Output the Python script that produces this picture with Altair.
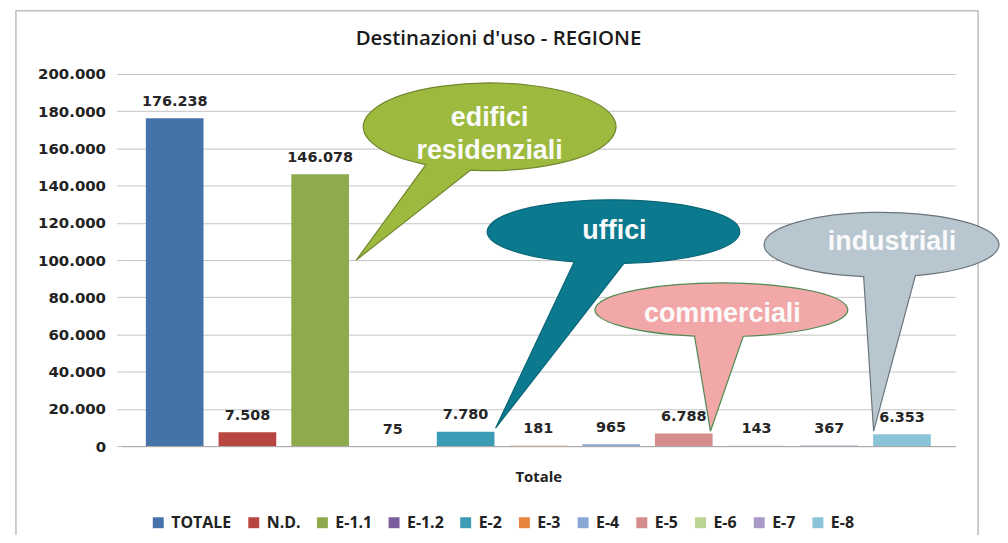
import altair as alt
import numpy as np
import pandas as pd

# ---------------- data ----------------
categories = ["TOTALE", "N.D.", "E-1.1", "E-1.2", "E-2", "E-3", "E-4", "E-5", "E-6", "E-7", "E-8"]
values = [176238, 7508, 146078, 75, 7780, 181, 965, 6788, 143, 367, 6353]
y_ticks = [0, 20000, 40000, 60000, 80000, 100000, 120000, 140000, 160000, 180000, 200000]

# callouts: which bar they point at, and their text lines
callout_targets = ["E-1.1", "E-2", "E-5", "E-8"]
callout_lines = [["edifici", "residenziali"], ["uffici"], ["commerciali"], ["industriali"]]

# ---------------- styles ----------------
bar_colors = ["#4672AA", "#B8453F", "#8DAB4D", "#7A5F9E", "#3C9CB5", "#E8853D",
              "#8AA8D6", "#D48C8C", "#B9D493", "#A999C7", "#8AC4D9"]
callout_fill = ["#9DBA3F", "#0B7A8F", "#F2A8A8", "#B8C6D0"]
callout_stroke = ["#71862E", "#0A6677", "#4F8A50", "#6B757B"]
# geometry of each callout in pixels, relative to the top of its bar:
# ellipse centre (cx, cy), radii (rx, ry), tail base x (b1, b2), tail tip (tx, ty)
callout_geom = [
    (170.3, -47.8, 127, 44, 106.3, 151.3, 36.3, 86.2),
    (148.6, -201.0, 127, 32, 109.1, 159.1, 30.1, -3.5),
    (37.8, -124.3, 127, 27, 10.8, 59.8, 26.8, -2.3),
    (-20.5, -190.6, 118, 32.5, -38.5, 13.5, -28.5, -3.1),
]
# text placement (dx, dy of each line's baseline) relative to top of bar
callout_text_pos = [
    [(170.3, -48.8), (170.3, -15.8)],
    [(149.6, -193.5)],
    [(38.8, -112.3)],
    [(-10.0, -185.1)],
]

W, H = 838, 374

df = pd.DataFrame({"cat": categories, "val": values})

x_enc = alt.X("cat:N",
              scale=alt.Scale(domain=categories, paddingInner=0.207, paddingOuter=0.336),
              axis=alt.Axis(labels=False, ticks=False, domain=True, domainColor="#A6A6A6",
                            domainWidth=1, title="Totale", titleFont="Open Sans",
                            titleFontSize=15, titleFontWeight="bold", titleColor="#222222",
                            titlePadding=24))
y_enc = alt.Y("val:Q",
              scale=alt.Scale(domain=[0, 200000], nice=False),
              axis=alt.Axis(values=y_ticks, format=",d", grid=True, gridColor="#C4C4C4",
                            gridWidth=1, domain=False, ticks=True, tickSize=5,
                            tickColor="#C4C4C4", labelPadding=11, labelFont="DejaVu Sans",
                            labelFontWeight="bold", labelFontSize=15, labelColor="#222222",
                            title=None))

frame = alt.Chart(pd.DataFrame({"f": [0]})).mark_rect(
    filled=False, stroke="#BDBDBD", strokeWidth=1.5
).encode(x=alt.value(-106), x2=alt.value(861), y=alt.value(-63.5), y2=alt.value(600))

title_text = alt.Chart(pd.DataFrame({"t": ["Destinazioni d'uso - REGIONE"]})).mark_text(
    align="center", baseline="alphabetic", font="Open Sans", fontSize=20.5,
    fontWeight=600, color="#1A1A1A"
).encode(x=alt.value(W / 2 - 40), y=alt.value(-29), text="t:N")

bars = alt.Chart(df).mark_bar().encode(
    x=x_enc,
    y=y_enc,
    color=alt.Color("cat:N",
                    scale=alt.Scale(domain=categories, range=bar_colors),
                    legend=alt.Legend(orient="none", legendX=29, legendY=443,
                                      direction="horizontal", title=None,
                                      symbolType="square", symbolSize=121,
                                      symbolStrokeWidth=0, labelFont="Open Sans",
                                      labelFontSize=16, labelFontWeight="bold",
                                      labelColor="#222222", columnPadding=14,
                                      labelOffset=5, padding=0)),
)

labels = alt.Chart(df).mark_text(
    dy=-12.5, baseline="alphabetic", align="center", font="DejaVu Sans",
    fontWeight="bold", fontSize=14.5, color="#262626"
).encode(x=x_enc, y=y_enc, text=alt.Text("val:Q", format=",d"))


def bubble_path(cx, cy, rx, ry, b1, b2, tx, ty):
    def bottom(xv):
        return cy + ry * np.sqrt(max(0.0, 1 - ((xv - cx) / rx) ** 2))
    y1, y2 = bottom(b1), bottom(b2)
    return (f"M {tx:.2f} {ty:.2f} L {b1:.2f} {y1:.2f} "
            f"A {rx} {ry} 0 1 1 {b2:.2f} {y2:.2f} Z")


callout_layers = []
for i, target in enumerate(callout_targets):
    v = values[categories.index(target)]
    cdf = pd.DataFrame({"cat": [target], "val": [v]})
    path = bubble_path(*callout_geom[i])
    callout_layers.append(
        alt.Chart(cdf).mark_point(
            shape=path, size=4, filled=True, fill=callout_fill[i],
            stroke=callout_stroke[i], strokeWidth=1.2, opacity=1, fillOpacity=1,
            strokeOpacity=1
        ).encode(x=x_enc, y=y_enc)
    )
    for line, (tdx, tdy) in zip(callout_lines[i], callout_text_pos[i]):
        tdf = pd.DataFrame({"cat": [target], "val": [v], "label": [line]})
        callout_layers.append(
            alt.Chart(tdf).mark_text(
                dx=tdx, dy=tdy, align="center", baseline="alphabetic",
                font="Liberation Sans", fontWeight="bold", fontSize=27, color="#FAFAFA"
            ).encode(x=x_enc, y=y_enc, text="label:N")
        )

chart = alt.layer(frame, title_text, bars, labels, *callout_layers).properties(
    width=W, height=H,
    padding={"left": 114, "top": 65, "right": 45, "bottom": 88},
    autosize=alt.AutoSizeParams(type="none"),
).configure(
    background="white",
    locale={"number": {"decimal": ",", "thousands": ".", "grouping": [3],
                       "currency": ["€", ""]}},
).configure_view(stroke=None)

chart.save("out.html", embed_options={"renderer": "svg", "actions": False})
